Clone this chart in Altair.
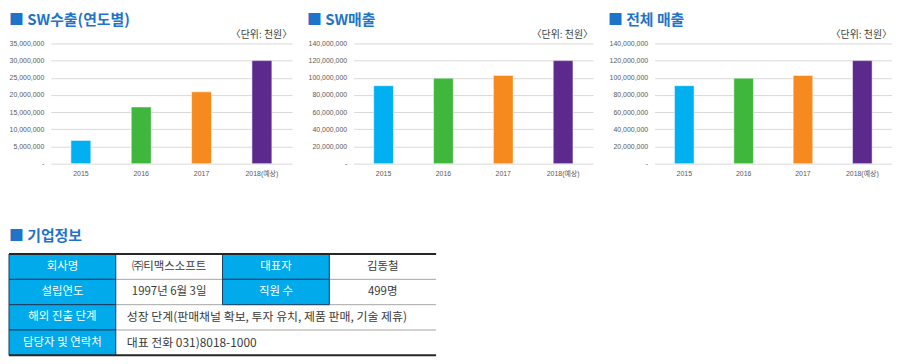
import altair as alt
import pandas as pd

# ---------------- data ----------------
years = ["2015", "2016", "2017", "2018(예상)"]
sw_export = [6_750_000, 16_500_000, 20_900_000, 30_000_000]
sw_sales = [90_800_000, 99_600_000, 102_700_000, 120_000_000]
total_sales = [90_800_000, 99_600_000, 102_700_000, 120_000_000]
bar_colors = ["#00b0f0", "#3fb63c", "#f68a1e", "#5c2a8d"]

panel_titles = ["■ SW수출(연도별)", "■ SW매출", "■ 전체 매출"]
unit_label = "〈단위: 천원〉"
export_ticks = [0, 5_000_000, 10_000_000, 15_000_000, 20_000_000, 25_000_000, 30_000_000, 35_000_000]
sales_ticks = [0, 20_000_000, 40_000_000, 60_000_000, 80_000_000, 100_000_000, 120_000_000, 140_000_000]

table_title = "■ 기업정보"
table_rows = [
    ["회사명", "㈜티맥스소프트", "대표자", "김동철"],
    ["설립연도", "1997년 6월 3일", "직원 수", "499명"],
    ["해외 진출 단계", "성장 단계(판매채널 확보, 투자 유치, 제품 판매, 기술 제휴)"],
    ["담당자 및 연락처", "대표 전화 031)8018-1000"],
]

FONT_KR = "Noto Sans CJK KR"
FONT_NUM = "Liberation Sans, Noto Sans CJK KR"
TITLE_BLUE = "#1e74c9"
CELL_BLUE = "#00aaeb"
AXIS_EXT1 = 42


def panel(values, ticks, title, width, extent):
    df = pd.DataFrame({"year": years, "value": values})
    bars = alt.Chart(df).mark_bar(stroke="white", strokeOpacity=0.5, strokeWidth=1).encode(
        x=alt.X("year:N", sort=years, title=None,
                scale=alt.Scale(paddingInner=0.67, paddingOuter=0.335),
                axis=alt.Axis(labelAngle=0, domain=False, ticks=False, labelPadding=6,
                              labelFontSize=7, labelColor="#595959", labelFont=FONT_NUM)),
        y=alt.Y("value:Q", title=None,
                scale=alt.Scale(domain=[0, ticks[-1]], nice=False),
                axis=alt.Axis(values=ticks,
                              labelExpr="datum.value == 0 ? '-' : format(datum.value, ',')",
                              domain=False, ticks=False, grid=True, gridColor="#d9d9d9",
                              labelPadding=7, minExtent=extent, maxExtent=extent,
                              labelFontSize=7, labelColor="#595959", labelFont=FONT_NUM)),
        color=alt.Color("year:N", sort=years,
                        scale=alt.Scale(domain=years, range=bar_colors), legend=None),
    )
    head = alt.Chart(pd.DataFrame({"t": [title]})).mark_text(
        align="left", baseline="middle", fontSize=15, fontWeight="bold",
        color=TITLE_BLUE, font=FONT_KR
    ).encode(x=alt.value(-extent), y=alt.value(-23.5), text="t:N")
    unit = alt.Chart(pd.DataFrame({"t": [unit_label]})).mark_text(
        align="right", baseline="middle", fontSize=10, color="#404040", font=FONT_KR
    ).encode(x=alt.value(width), y=alt.value(-8.5), text="t:N")
    return alt.layer(bars, head, unit).properties(width=width, height=121)


c1 = panel(sw_export, export_ticks, panel_titles[0], 243, AXIS_EXT1)
c2 = panel(sw_sales, sales_ticks, panel_titles[1], 241, 47)
c3 = panel(total_sales, sales_ticks, panel_titles[2], 239, 47)

# ---------------- table ----------------
cells = []
for r, row in enumerate(table_rows):
    spans = [1, 1, 1, 1] if len(row) == 4 else [1, 3]
    c = 0
    for i, (txt, sp) in enumerate(zip(row, spans)):
        cells.append({"row": r, "row2": r + 1, "rmid": r + 0.5,
                      "col": c, "col2": c + sp, "cmid": c + sp / 2,
                      "text": txt, "kind": "head" if i % 2 == 0 else "val",
                      "wide": sp > 1})
        c += sp
cells_df = pd.DataFrame(cells)

TABLE_W = 430
xs = alt.Scale(domain=[0, 4], nice=False, zero=False,
               range=[-AXIS_EXT1, TABLE_W - AXIS_EXT1])
ys = alt.Scale(domain=[0, 4], nice=False, zero=False, reverse=True)

base = alt.Chart(cells_df)
white_cells = base.transform_filter("datum.kind == 'val'").mark_rect(fill="white").encode(
    x=alt.X("col:Q", scale=xs, axis=None), x2="col2:Q",
    y=alt.Y("row:Q", scale=ys, axis=None), y2="row2:Q")

seps = pd.DataFrame({"y": [1, 2, 3], "x": [0, 0, 0], "x2": [4, 4, 4]})
sep_rules = alt.Chart(seps).mark_rule(color="#a6a6a6", strokeWidth=1).encode(
    x=alt.X("x:Q", scale=xs, axis=None), x2="x2:Q",
    y=alt.Y("y:Q", scale=ys, axis=None))

blue_cells = base.transform_filter("datum.kind == 'head'").mark_rect(
    fill=CELL_BLUE, stroke="#1f3a5f", strokeWidth=1).encode(
    x=alt.X("col:Q", scale=xs, axis=None), x2="col2:Q",
    y=alt.Y("row:Q", scale=ys, axis=None), y2="row2:Q")

borders = pd.DataFrame({"y": [0, 4], "x": [0, 0], "x2": [4, 4]})
border_rules = alt.Chart(borders).mark_rule(color="#262626", strokeWidth=2).encode(
    x=alt.X("x:Q", scale=xs, axis=None), x2="x2:Q",
    y=alt.Y("y:Q", scale=ys, axis=None))

head_text = base.transform_filter("datum.kind == 'head'").mark_text(
    color="white", fontSize=11.5, font=FONT_KR, baseline="middle", align="center").encode(
    x=alt.X("cmid:Q", scale=xs, axis=None), y=alt.Y("rmid:Q", scale=ys, axis=None), text="text:N")

val_text = base.transform_filter("datum.kind == 'val' && !datum.wide").mark_text(
    color="#3a3a3a", fontSize=11.5, font=FONT_KR, baseline="middle", align="center").encode(
    x=alt.X("cmid:Q", scale=xs, axis=None), y=alt.Y("rmid:Q", scale=ys, axis=None), text="text:N")

wide_text = base.transform_filter("datum.kind == 'val' && datum.wide").mark_text(
    color="#3a3a3a", fontSize=12, font=FONT_KR, baseline="middle", align="left", dx=11).encode(
    x=alt.X("col:Q", scale=xs, axis=None), y=alt.Y("rmid:Q", scale=ys, axis=None), text="text:N")

t_title = alt.Chart(pd.DataFrame({"t": [table_title]})).mark_text(
    align="left", baseline="middle", fontSize=15, fontWeight="bold",
    color=TITLE_BLUE, font=FONT_KR).encode(x=alt.value(-AXIS_EXT1), y=alt.value(-18), text="t:N")

table = alt.layer(white_cells, sep_rules, blue_cells, border_rules,
                  head_text, val_text, wide_text, t_title).properties(
    width=TABLE_W - AXIS_EXT1, height=102)

chart = alt.vconcat(
    alt.hconcat(c1, c2, c3, spacing=15),
    table,
    spacing=53,
).properties(padding={"top": 3.5, "left": 0, "right": 0, "bottom": 0},
             background="white").configure_view(stroke=None)

chart.save("out.html", embed_options={"renderer": "svg", "actions": False})
